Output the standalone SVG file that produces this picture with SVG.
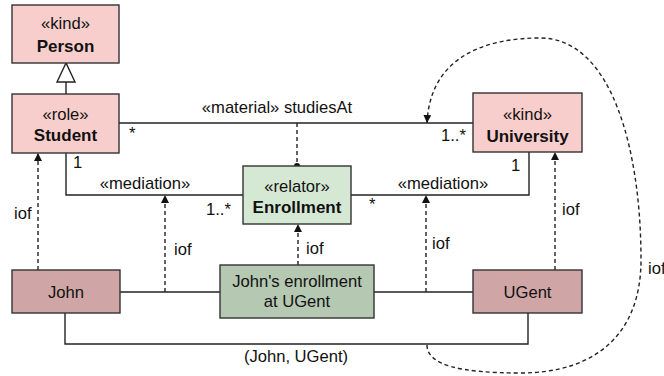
<svg xmlns="http://www.w3.org/2000/svg" width="664" height="376" viewBox="0 0 664 376">
<defs>
<marker id="arr" viewBox="0 0 10 10" refX="10" refY="5" markerWidth="8" markerHeight="8" markerUnits="userSpaceOnUse" orient="auto">
<path d="M0,0 L10,5 L0,10 Z" fill="#111"/>
</marker>
<marker id="dot" viewBox="0 0 10 10" refX="5" refY="5" markerWidth="6" markerHeight="6" markerUnits="userSpaceOnUse">
<circle cx="5" cy="5" r="5" fill="#111"/>
</marker>
</defs>
<style>
text{font-family:"Liberation Sans",Arial,sans-serif;font-size:16.6px;fill:#111}
.b{font-weight:bold;font-size:17px}
.m{text-anchor:middle}
.line{fill:none;stroke:#222;stroke-width:1.4}
.dash{fill:none;stroke:#222;stroke-width:1.4;stroke-dasharray:4 3}
.cls{fill:#f8cecc;stroke:#333;stroke-width:1.4}
.rel{fill:#d5e8d4;stroke:#333;stroke-width:1.4}
.ind{fill:#cfa6a5;stroke:#333;stroke-width:1.4}
.rind{fill:#b5c8b2;stroke:#333;stroke-width:1.4}
</style>
<g id="connectors">
<line class="line" x1="66" y1="82" x2="66" y2="94"/>
<path d="M66,63 L57,82 L75,82 Z" fill="#fff" stroke="#222" stroke-width="1.4"/>
<line class="line" x1="119" y1="123" x2="473" y2="123"/>
<path class="line" d="M66,153 V195 H243"/>
<path class="line" d="M351,195 H529 V152"/>
<line class="dash" x1="297" y1="123" x2="297" y2="166" marker-end="url(#dot)"/>
<path class="line" d="M65,313 V344 H528 V313"/>
<line class="line" x1="120" y1="292" x2="220" y2="292"/>
<line class="line" x1="374" y1="292" x2="473" y2="292"/>
<line class="dash" x1="38" y1="270" x2="38" y2="153" marker-end="url(#arr)"/>
<line class="dash" x1="165" y1="292" x2="165" y2="195" marker-end="url(#arr)"/>
<line class="dash" x1="298" y1="265" x2="298" y2="224" marker-end="url(#arr)"/>
<line class="dash" x1="426" y1="292" x2="426" y2="195" marker-end="url(#arr)"/>
<line class="dash" x1="555" y1="270" x2="555" y2="152" marker-end="url(#arr)"/>
<path class="dash" d="M427,345 C427,365 460,373 520,373 C600,373 641,330 641,260 C641,150 612,38 540,38 C480,38 430,60 427,123" marker-end="url(#arr)"/>
<text x="277" y="113" class="m">«material» studiesAt</text>
<text x="129" y="139">*</text>
<text x="441" y="141">1..*</text>
<text x="73" y="168">1</text>
<text x="145" y="189" class="m">«mediation»</text>
<text x="206" y="215">1..*</text>
<text x="443" y="189" class="m">«mediation»</text>
<text x="369" y="210">*</text>
<text x="511" y="171">1</text>
<text x="14" y="219">iof</text>
<text x="174" y="255">iof</text>
<text x="306" y="254">iof</text>
<text x="432" y="249">iof</text>
<text x="562" y="215">iof</text>
<text x="648" y="274">iof</text>
<text x="296" y="362" class="m">(John, UGent)</text>
</g>
<g id="person">
<rect class="cls" x="12" y="5" width="107" height="58"/>
<text x="65.5" y="29" class="m">«kind»</text>
<text x="65.5" y="52" class="m b">Person</text>
</g>
<g id="student">
<rect class="cls" x="12" y="94" width="107" height="59"/>
<text x="65.5" y="120" class="m">«role»</text>
<text x="65.5" y="141" class="m b">Student</text>
</g>
<g id="university">
<rect class="cls" x="473" y="93" width="109" height="59"/>
<text x="527.5" y="120" class="m">«kind»</text>
<text x="527.5" y="142" class="m b">University</text>
</g>
<g id="enrollment">
<rect class="rel" x="243" y="166" width="108" height="58"/>
<text x="297" y="192" class="m">«relator»</text>
<text x="297" y="213" class="m b">Enrollment</text>
</g>
<g id="john">
<rect class="ind" x="12" y="270" width="108" height="43"/>
<text x="66" y="298" class="m">John</text>
</g>
<g id="johns-enrollment">
<rect class="rind" x="220" y="265" width="154" height="53"/>
<text x="297" y="287" class="m">John's enrollment</text>
<text x="297" y="307" class="m">at UGent</text>
</g>
<g id="ugent">
<rect class="ind" x="473" y="270" width="109" height="43"/>
<text x="527.5" y="298" class="m">UGent</text>
</g>
</svg>
